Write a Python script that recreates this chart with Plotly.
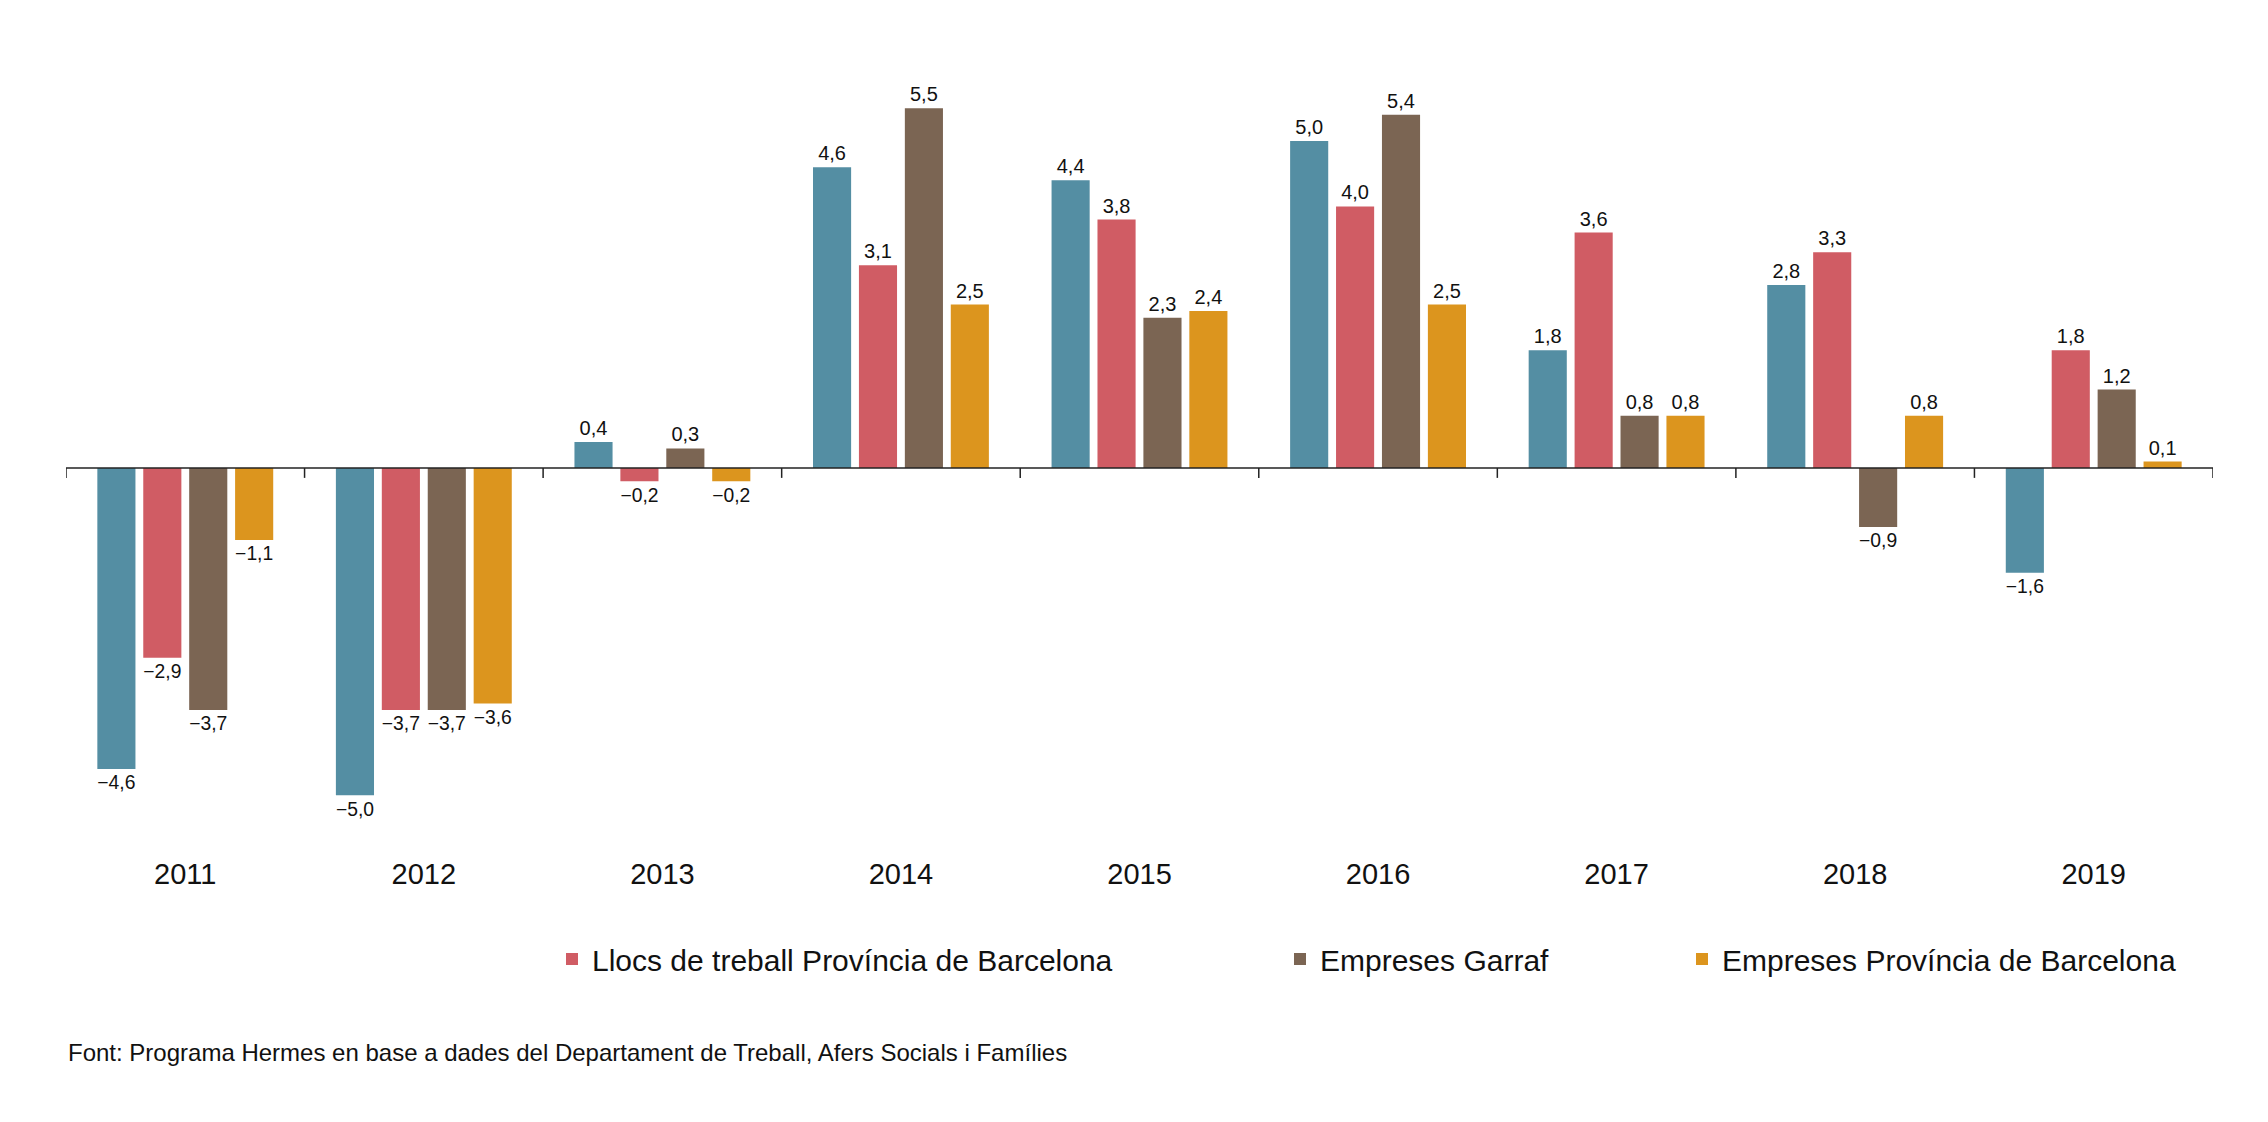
import plotly.graph_objects as go

years = ["2011","2012","2013","2014","2015","2016","2017","2018","2019"]
llocs_garraf = [-4.6,-5.0,0.4,4.6,4.4,5.0,1.8,2.8,-1.6]
llocs_bcn = [-2.9,-3.7,-0.2,3.1,3.8,4.0,3.6,3.3,1.8]
emp_garraf = [-3.7,-3.7,0.3,5.5,2.3,5.4,0.8,-0.9,1.2]
emp_bcn = [-1.1,-3.6,-0.2,2.5,2.4,2.5,0.8,0.8,0.1]
names = ["Llocs de treball Garraf","Llocs de treball Província de Barcelona","Empreses Garraf","Empreses Província de Barcelona"]
colors = ["#548ea3","#d05c64","#7b6553","#dc951e"]
legend_x = [61/2268, 544/2268, 1272/2268, 1674/2268]

def fmt(v):
    s = f"{abs(v):.1f}".replace(".", ",")
    return ("\u2212" + s) if v < 0 else s

fig = go.Figure()
for i, (vals, nm, c) in enumerate(zip([llocs_garraf, llocs_bcn, emp_garraf, emp_bcn], names, colors)):
    lg = "legend" if i == 0 else f"legend{i+1}"
    fig.add_trace(go.Bar(x=years, y=vals, name=nm, marker_color=c, marker_line_width=0,
                         text=[fmt(v) for v in vals], textposition="outside", cliponaxis=False,
                         textfont=dict(size=20, color="#111"), legend=lg))

for i in range(len(years)+1):
    fig.add_shape(type="line", xref="x", yref="y", x0=i-0.5, x1=i-0.5, y0=0, y1=-0.15,
                  line=dict(color="#222", width=1.5))
fig.add_shape(type="line", xref="x", yref="y", x0=-0.5, x1=len(years)-0.5, y0=0, y1=0,
              line=dict(color="#222", width=1.5))

lay = {}
for i in range(4):
    key = "legend" if i == 0 else f"legend{i+1}"
    lay[key] = dict(x=legend_x[i], y=951/1122, xref="paper", yref="container", xanchor="left",
                    yanchor="middle", orientation="h", font=dict(size=30, color="#111"),
                    bgcolor="rgba(0,0,0,0)", itemwidth=30)
    # position legend relative to container
    lay[key]["x"] = legend_x[i]
    lay[key]["xref"] = "container"
    lay[key]["y"] = 1 - 951/1122

fig.update_layout(
    width=2268, height=1122, paper_bgcolor="white", plot_bgcolor="white",
    margin=dict(l=58, r=63, t=48, b=276),
    font=dict(family="Liberation Sans, Arial, sans-serif", color="#111"),
    barmode="group", bargap=0.23, bargroupgap=0.17,
    xaxis=dict(showline=False, ticks="", tickfont=dict(size=29), range=[-0.5, 8.5]),
    yaxis=dict(range=[-5.9, 6.3], visible=False, zeroline=False, showgrid=False),
    annotations=[dict(text="Font: Programa Hermes en base a dades del Departament de Treball, Afers Socials i Famílies",
                      xref="paper", yref="paper", x=0, xanchor="left", y=-(1044-846)/798, yanchor="middle",
                      showarrow=False, font=dict(size=24, color="#111"))],
    **lay
)
fig.write_html("out.html")
